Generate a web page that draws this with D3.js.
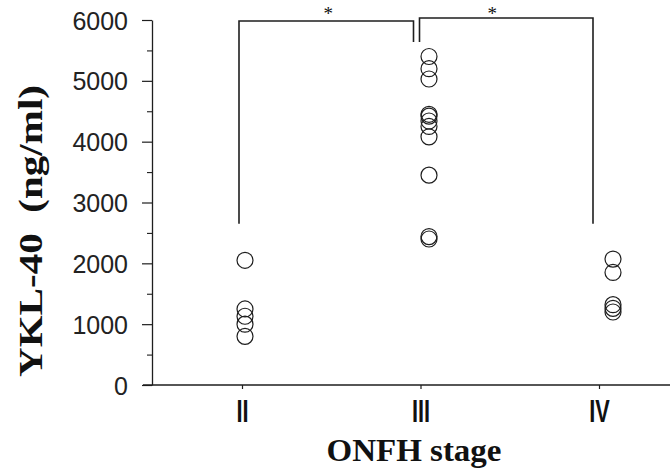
<!DOCTYPE html>
<html>
<head>
<meta charset="utf-8">
<script src="https://cdn.jsdelivr.net/npm/d3@7"></script>
<style>
  html, body { margin: 0; padding: 0; background: #fff; }
  svg { display: block; }
</style>
</head>
<body>
<svg id="chart" width="670" height="469"></svg>
<script>
// ---- data ----
const categories = ["II", "III", "IV"];
const valuesII  = [2050, 1250, 1130, 1000, 800];
const valuesIII = [5400, 5200, 5030, 4450, 4420, 4340, 4250, 4080, 3450, 2440, 2400];
const valuesIV  = [2070, 1850, 1320, 1260, 1200];
const yMajorTicks = [0, 1000, 2000, 3000, 4000, 5000, 6000];
const yMinorTicks = [500, 1500, 2500, 3500, 4500, 5500];
const comparisons = [
  { from: "II",  to: "III", label: "*", base: 2650 },
  { from: "III", to: "IV",  label: "*", base: 2650 }
];
const yTitle = "YKL-40\u00A0\u00A0(ng/ml)";
const xTitle = "ONFH stage";

const seriesByCat = { "II": valuesII, "III": valuesIII, "IV": valuesIV };
const points = [];
categories.forEach(c => seriesByCat[c].forEach(v => points.push({ cat: c, value: v })));

// ---- layout ----
const svg = d3.select("#chart");
const ink = "#1e1e1e";

const y = d3.scaleLinear().domain([0, 6000]).range([385, 20]);
const xAxisScale = d3.scalePoint().domain(categories).range([242, 599]);
const xPoint = d3.scalePoint().domain(categories).range([245, 613]);

// y axis major
const yAxisG = svg.append("g").attr("transform", "translate(152,0)")
  .call(d3.axisLeft(y).tickValues(yMajorTicks).tickSize(10).tickSizeOuter(0).tickPadding(14).tickFormat(d3.format("d")));
yAxisG.select(".domain").attr("stroke", ink).attr("stroke-width", 1.3);
yAxisG.selectAll(".tick line").attr("stroke", ink).attr("stroke-width", 1.2);
yAxisG.selectAll(".tick text")
  .attr("fill", "#222")
  .style("font-family", "'Liberation Sans', Arial, sans-serif")
  .style("font-size", "25px")
  .attr("dy", "0.36em");

// y axis minor
const yMinorG = svg.append("g").attr("transform", "translate(152,0)")
  .call(d3.axisLeft(y).tickValues(yMinorTicks).tickSize(5).tickFormat(""));
yMinorG.select(".domain").remove();
yMinorG.selectAll(".tick line").attr("stroke", ink).attr("stroke-width", 1.1);

// x baseline
svg.append("line")
  .attr("x1", 143).attr("x2", 670)
  .attr("y1", y(0)).attr("y2", y(0))
  .attr("stroke", ink).attr("stroke-width", 1.5);

// x axis ticks
const xAxisG = svg.append("g").attr("transform", `translate(0,${y(0)})`)
  .call(d3.axisBottom(xAxisScale).tickSize(4).tickSizeOuter(0).tickPadding(10));
xAxisG.select(".domain").remove();
xAxisG.selectAll(".tick line").attr("stroke", ink).attr("stroke-width", 1.2);
xAxisG.selectAll(".tick text")
  .attr("fill", "#111")
  .attr("transform", "scale(0.68,1)")
  .style("font-family", "'Liberation Sans', Arial, sans-serif")
  .style("font-weight", "bold")
  .style("font-size", "32px");

// titles
svg.append("text")
  .attr("transform", `translate(42,231) rotate(-90)`)
  .attr("text-anchor", "middle")
  .attr("x", 0).attr("y", 0)
  .attr("textLength", 292)
  .attr("lengthAdjust", "spacingAndGlyphs")
  .style("font-family", "'Liberation Serif', 'Times New Roman', serif")
  .style("font-weight", "bold")
  .style("font-size", "33px")
  .attr("fill", "#111")
  .text(yTitle);

svg.append("text")
  .attr("x", 414).attr("y", 461)
  .attr("text-anchor", "middle")
  .attr("textLength", 175)
  .attr("lengthAdjust", "spacingAndGlyphs")
  .style("font-family", "'Liberation Serif', 'Times New Roman', serif")
  .style("font-weight", "bold")
  .style("font-size", "31px")
  .attr("fill", "#111")
  .text(xTitle);

// significance brackets
const bracketTop = [21, 18];
const innerDrop = 42;
const offsets = [[-3, -7], [-1, -6]];
comparisons.forEach((cmp, i) => {
  const x1 = xAxisScale(cmp.from) + offsets[i][0];
  const x2 = xAxisScale(cmp.to) + offsets[i][1];
  const top = bracketTop[i];
  const leftBottom = i === 0 ? y(cmp.base) : innerDrop;
  const rightBottom = i === 0 ? innerDrop : y(cmp.base);
  svg.append("path")
    .attr("d", `M${x1},${leftBottom}V${top}H${x2}V${rightBottom}`)
    .attr("fill", "none")
    .attr("stroke", ink)
    .attr("stroke-width", 1.6);
  svg.append("text")
    .attr("x", i === 0 ? (x1 + x2) / 2 + 2 : (x1 + x2) / 2 - 14)
    .attr("y", 20)
    .attr("text-anchor", "middle")
    .style("font-family", "'Liberation Serif', 'Times New Roman', serif")
    .style("font-size", "19px")
    .attr("fill", "#111")
    .text(cmp.label);
});

// points
svg.append("g").selectAll("circle")
  .data(points)
  .join("circle")
  .attr("cx", d => xPoint(d.cat))
  .attr("cy", d => y(d.value))
  .attr("r", 8)
  .attr("fill", "none")
  .attr("stroke", ink)
  .attr("stroke-width", 1.2);
</script>
</body>
</html>
